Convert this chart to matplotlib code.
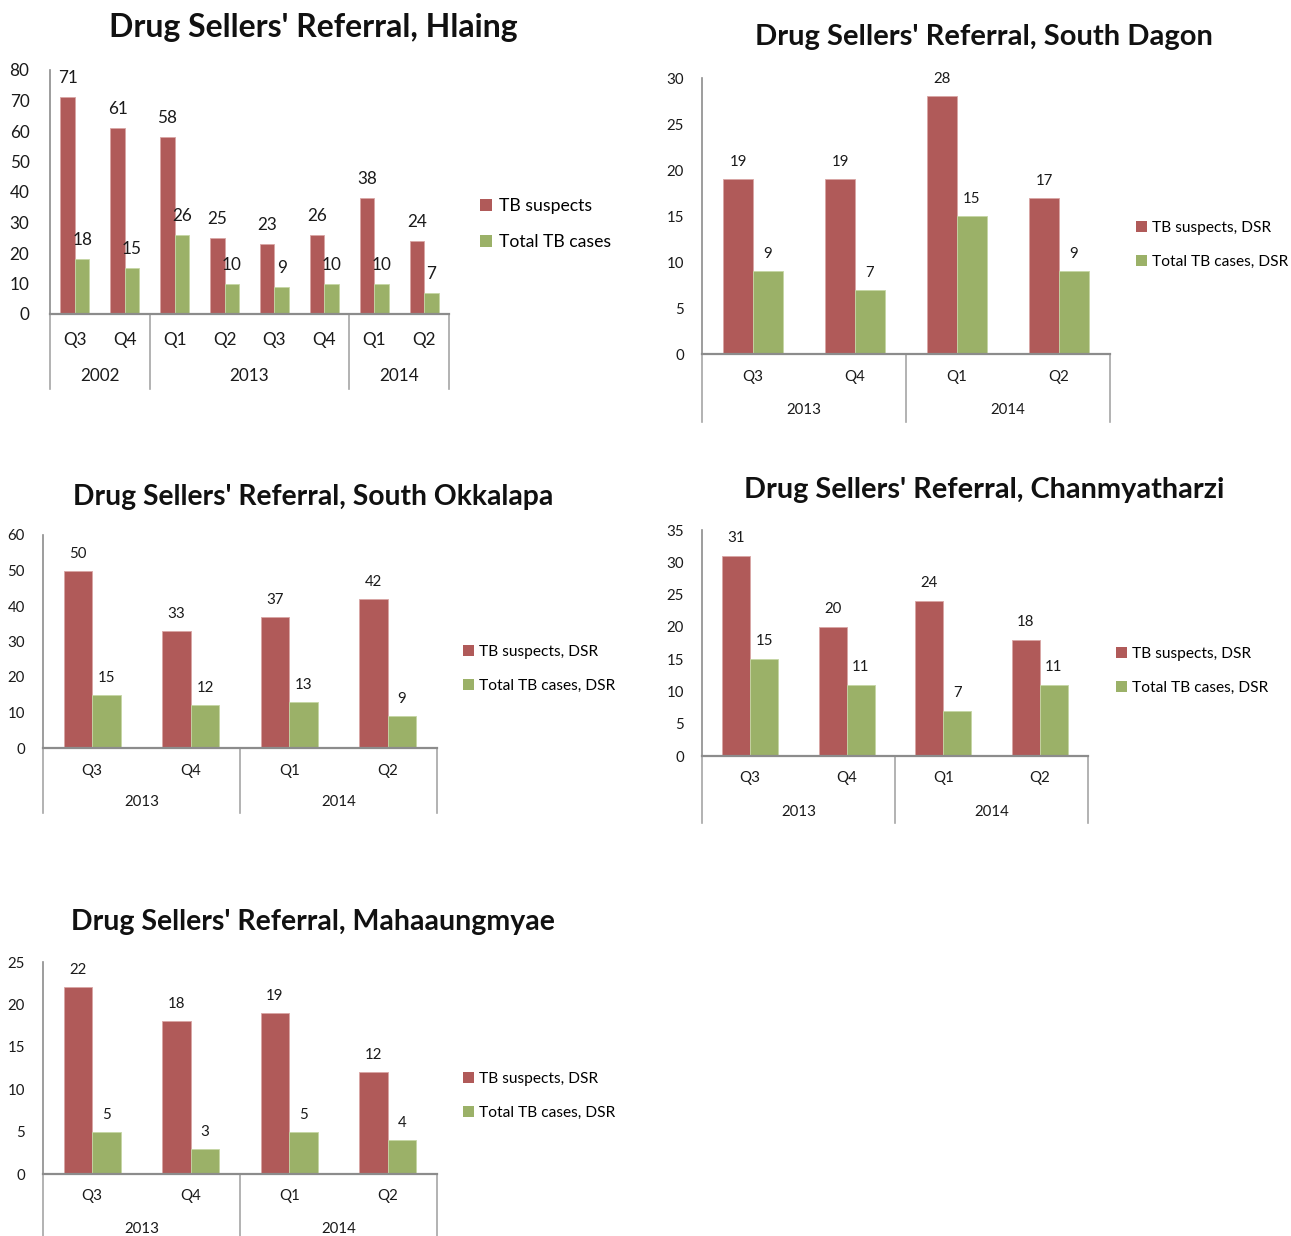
import matplotlib
matplotlib.use("Agg")
import matplotlib.pyplot as plt
from matplotlib.patches import Patch
from matplotlib.transforms import blended_transform_factory

plt.rcParams['font.family'] = ['Lato', 'DejaVu Sans']

W, H = 1291, 1236
fig = plt.figure(figsize=(W / 100, H / 100), dpi=100)

RED = '#B05A59'
GREEN = '#9BB168'
AXIS = '#8C8C8C'
SEP = '#A6A6A6'

# --- data -------------------------------------------------------------
hlaing_quarters = ['Q3', 'Q4', 'Q1', 'Q2', 'Q3', 'Q4', 'Q1', 'Q2']
hlaing_years = ['2002', '2013', '2014']
hlaing_year_sizes = [2, 4, 2]
hlaing_suspects = [71, 61, 58, 25, 23, 26, 38, 24]
hlaing_cases = [18, 15, 26, 10, 9, 10, 10, 7]

quarters = ['Q3', 'Q4', 'Q1', 'Q2']
years = ['2013', '2014']
year_sizes = [2, 2]

dagon_suspects = [19, 19, 28, 17]
dagon_cases = [9, 7, 15, 9]

okkalapa_suspects = [50, 33, 37, 42]
okkalapa_cases = [15, 12, 13, 9]

chanmya_suspects = [31, 20, 24, 18]
chanmya_cases = [15, 11, 7, 11]

mahaaung_suspects = [22, 18, 19, 12]
mahaaung_cases = [5, 3, 5, 4]


def panel(box, title, title_xy, title_fs, cats, groups, group_sizes,
          s1, s2, labels, ymax, ystep, fs, lbl_off, q_y, yr_y, sep_bottom,
          leg_xy, leg_gap, leg_fs, bar_w=0.29):
    left, top, right, bottom = box
    ax = fig.add_axes([left / W, 1 - bottom / H, (right - left) / W, (bottom - top) / H])
    n = len(cats)
    xs = list(range(n))
    b1 = ax.bar([x - bar_w / 2 for x in xs], s1, width=bar_w, color=RED,
                edgecolor='#D9A5A4', linewidth=0.6, label=labels[0])
    b2 = ax.bar([x + bar_w / 2 for x in xs], s2, width=bar_w, color=GREEN,
                edgecolor='#C5D6A4', linewidth=0.6, label=labels[1])
    for bars, vals in ((b1, s1), (b2, s2)):
        for r, v in zip(bars, vals):
            ax.annotate(str(v), (r.get_x() + r.get_width() / 2, v),
                        xytext=(0, lbl_off), textcoords='offset pixels',
                        ha='center', va='center', fontsize=fs, color='#1a1a1a')
    ax.set_xlim(-0.5, n - 0.5)
    ax.set_ylim(0, ymax)
    ax.set_yticks(range(0, ymax + 1, ystep))
    ax.tick_params(axis='y', length=0, pad=fs * 1.2, labelsize=fs, colors='#1a1a1a')
    ax.set_xticks([])
    for s in ('top', 'right'):
        ax.spines[s].set_visible(False)
    ax.spines['left'].set_color(AXIS)
    ax.spines['bottom'].set_color(AXIS)
    ax.spines['left'].set_linewidth(1.2)
    ax.spines['bottom'].set_linewidth(1.6)

    h = bottom - top
    trans = blended_transform_factory(ax.transData, ax.transAxes)
    for i, c in enumerate(cats):
        ax.text(i, -(q_y - bottom) / h, c, transform=trans, ha='center',
                va='center', fontsize=fs, color='#1a1a1a')
    start = -0.5
    bounds = [start]
    for g, size in zip(groups, group_sizes):
        mid = start + size / 2
        ax.text(mid, -(yr_y - bottom) / h, g, transform=trans, ha='center',
                va='center', fontsize=fs, color='#1a1a1a')
        start += size
        bounds.append(start)
    for b in bounds:
        ax.plot([b, b], [0, -(sep_bottom - bottom) / h], transform=trans,
                color=SEP, lw=1.2, clip_on=False)

    fig.text(title_xy[0] / W, 1 - title_xy[1] / H, title, ha='center',
             va='center', fontsize=title_fs, fontweight='bold', color='#111111')

    handles = [Patch(facecolor=RED, edgecolor='none'),
               Patch(facecolor=GREEN, edgecolor='none')]
    fig.legend(handles, labels, loc='center left',
               bbox_to_anchor=(leg_xy[0] / W, 1 - leg_xy[1] / H),
               bbox_transform=fig.transFigure, frameon=False,
               fontsize=leg_fs, handlelength=0.7, handleheight=0.7,
               handletextpad=0.35, borderpad=0, borderaxespad=0,
               labelspacing=leg_gap)
    return ax


panel((50, 70, 449, 314), "Drug Sellers' Referral, Hlaing", (313, 27), 23,
      hlaing_quarters, hlaing_years, hlaing_year_sizes,
      hlaing_suspects, hlaing_cases, ['TB suspects', 'Total TB cases'],
      80, 10, 12.3, 19, 340, 376, 389, (480, 224), 1.15, 12.7)

panel((702, 78, 1110, 354), "Drug Sellers' Referral, South Dagon", (984, 37), 21,
      quarters, years, year_sizes,
      dagon_suspects, dagon_cases, ['TB suspects, DSR', 'Total TB cases, DSR'],
      30, 5, 10.8, 17, 377, 410, 422, (1136, 245), 1.25, 11.2)

panel((43, 535, 437, 748), "Drug Sellers' Referral, South Okkalapa", (313, 497), 20.3,
      quarters, years, year_sizes,
      okkalapa_suspects, okkalapa_cases, ['TB suspects, DSR', 'Total TB cases, DSR'],
      60, 10, 10.8, 17, 771, 802, 813, (463, 669), 1.25, 11.2)

panel((702, 530, 1088, 756), "Drug Sellers' Referral, Chanmyatharzi", (984, 490), 20.8,
      quarters, years, year_sizes,
      chanmya_suspects, chanmya_cases, ['TB suspects, DSR', 'Total TB cases, DSR'],
      35, 5, 10.8, 18, 778, 812, 823, (1116, 671), 1.25, 11.2)

panel((43, 962, 437, 1174), "Drug Sellers' Referral, Mahaaungmyae", (313, 922), 20.5,
      quarters, years, year_sizes,
      mahaaung_suspects, mahaaung_cases, ['TB suspects, DSR', 'Total TB cases, DSR'],
      25, 5, 10.8, 17, 1196, 1229, 1240, (463, 1096), 1.25, 11.2)

fig.savefig('out.png', dpi=100)
